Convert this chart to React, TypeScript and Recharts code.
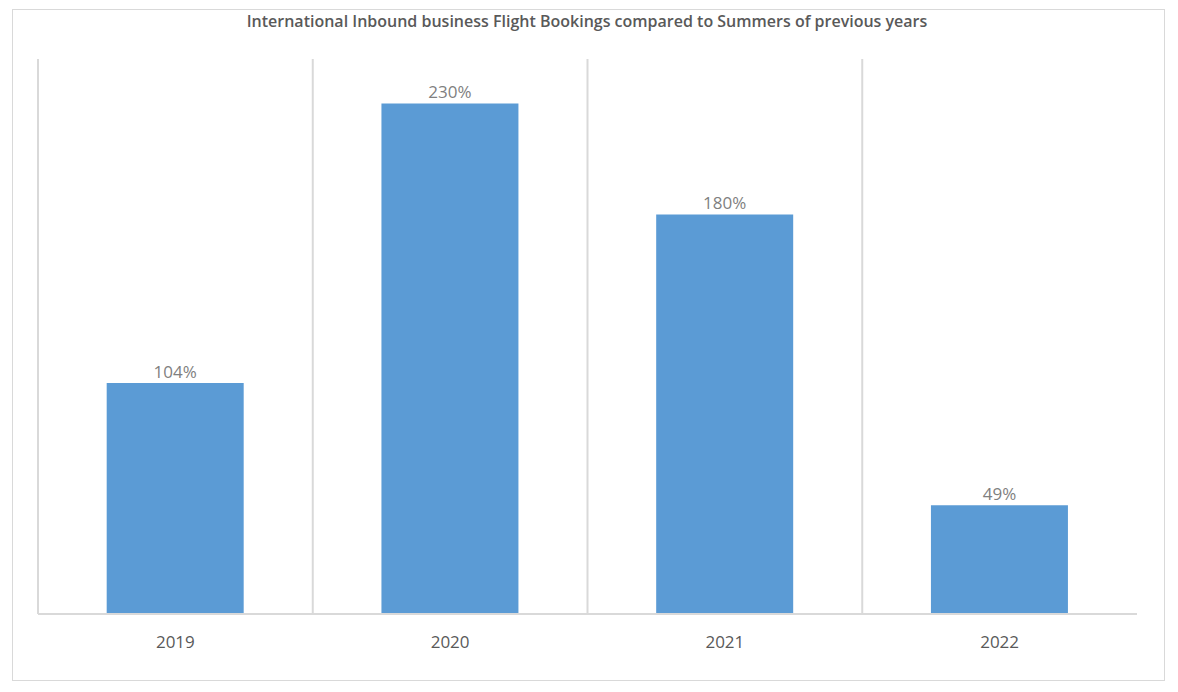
import { Bar, BarChart, CartesianGrid, LabelList, XAxis, YAxis } from "recharts";

const years = ["2019", "2020", "2021", "2022"];
const bookings = [104, 230, 180, 49];
const yDomain = [0, 250];

const data = years.map((year, i) => ({ year, value: bookings[i] }));

const font = "'Open Sans', 'Noto Sans', sans-serif";

export default function App() {
  return (
    <div style={{ position: "absolute", left: 0, top: 0, width: 1178, height: 692, background: "#fff", fontFamily: font }}>
      <div
        style={{
          position: "absolute",
          left: 12,
          top: 9,
          width: 1151,
          height: 670,
          border: "1px solid #d9d9d9",
        }}
      />
      <div
        style={{
          position: "absolute",
          left: 0,
          top: 10,
          width: 1174,
          textAlign: "center",
          fontSize: 16,
          fontWeight: 600,
          color: "#595959",
        }}
      >
        International Inbound business Flight Bookings compared to Summers of previous years
      </div>
      <div style={{ position: "absolute", left: 0, top: 0 }}>
        <BarChart
          width={1178}
          height={692}
          data={data}
          margin={{ top: 59, right: 41, bottom: 48, left: 38 }}
          barCategoryGap="25%"
        >
          <CartesianGrid
            horizontal={false}
            stroke="#d9d9d9"
            strokeWidth={2}
            verticalCoordinatesGenerator={({ offset }: any) =>
              years.map((_, i) => offset.left + (i * offset.width) / years.length)
            }
          />
          <XAxis
            dataKey="year"
            height={30}
            axisLine={{ stroke: "#d9d9d9", strokeWidth: 2 }}
            tickLine={false}
            tick={{ fill: "#595959", fontSize: 17, fontFamily: font }}
            dy={14}
          />
          <YAxis hide width={0} domain={yDomain} />
          <Bar dataKey="value" fill="#5b9bd5" isAnimationActive={false}>
            <LabelList
              dataKey="value"
              position="top"
              formatter={(v: any) => `${v}%`}
              style={{ fill: "#7f7f7f", fontSize: 17, fontFamily: font }}
            />
          </Bar>
        </BarChart>
      </div>
    </div>
  );
}
